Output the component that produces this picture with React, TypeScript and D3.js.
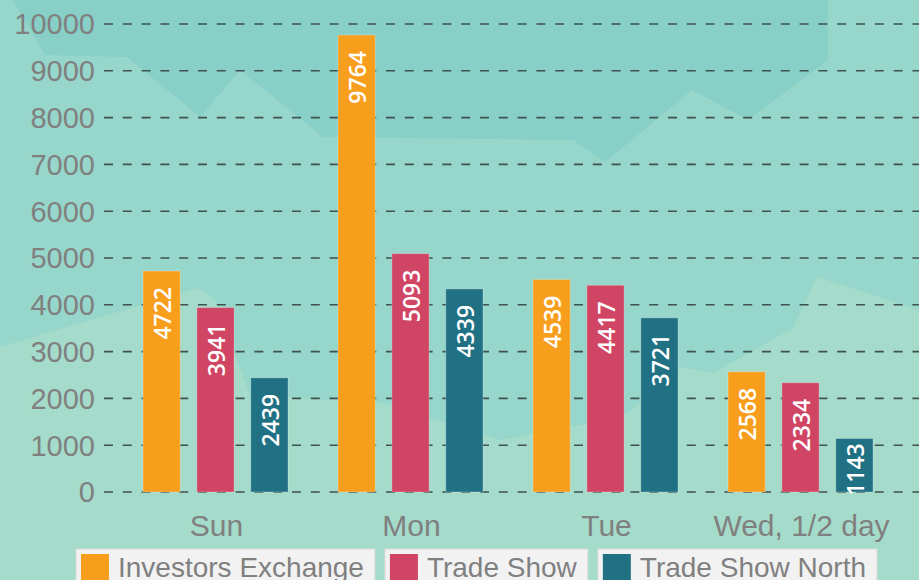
import React from "react";
import * as d3 from "d3";

const days = ["Sun", "Mon", "Tue", "Wed, 1/2 day"];
const seriesNames = ["Investors Exchange", "Trade Show", "Trade Show North"];
const investorsExchange = [4722, 9764, 4539, 2568];
const tradeShow = [3941, 5093, 4417, 2334];
const tradeShowNorth = [2439, 4339, 3721, 1143];
const yTicks = [0, 1000, 2000, 3000, 4000, 5000, 6000, 7000, 8000, 9000, 10000];
const seriesColors = ["#f89e1d", "#d14564", "#217184"];

const W = 919;
const H = 580;

function measure(text: string, font: string): number {
  const c = document.createElement("canvas");
  const ctx = c.getContext("2d");
  if (!ctx) return text.length * 14;
  ctx.font = font;
  return ctx.measureText(text).width;
}

export default function App() {
  const values = [investorsExchange, tradeShow, tradeShowNorth];
  const y = d3.scaleLinear().domain([0, 10000]).range([492, 24]);
  const x0 = d3.scaleBand<string>().domain(days).range([118, 898]).paddingInner(0).paddingOuter(0);
  const x1 = d3.scaleBand<string>().domain(seriesNames).range([25, 170]).paddingInner(0.31).paddingOuter(0);

  const tickFont = "'Liberation Sans', Arial, sans-serif";
  const labelFont = "'Open Sans', sans-serif";

  // legend layout
  const legendFontCss = "28px 'Liberation Sans', Arial, sans-serif";
  let lx = 76;
  const legendItems = seriesNames.map((name, i) => {
    const tw = measure(name, legendFontCss);
    const item = { name, i, x: lx, w: 42 + tw + 11, tw };
    lx += item.w + 10;
    return item;
  });

  return (
    <svg width={W} height={H} style={{ position: "absolute", left: 0, top: 0 }}>
      {/* background decoration */}
      <rect x={0} y={0} width={W} height={H} fill="#97d6ca" />
      <path
        d="M13,0 L45,55 L127,57 L200,117 L240,70 L323,137 L573,140 L605,162 L692,90 L748,120 L828,60 L828,0 Z"
        fill="#87cfc7"
      />
      <path
        d="M0,347 L198,288 L215,300 L250,395 L383,403 L500,440 L623,417 L680,367 L713,373 L793,328 L817,277 L919,310 L919,580 L0,580 Z"
        fill="#a5dbca"
      />

      {/* gridlines */}
      {yTicks.map((t) => (
        <line
          key={"g" + t}
          x1={104}
          x2={W}
          y1={y(t)}
          y2={y(t)}
          stroke="#3f524e"
          strokeWidth={1.6}
          strokeDasharray="9,9.8"
        />
      ))}

      {/* y tick labels */}
      {yTicks.map((t) => (
        <text
          key={"t" + t}
          x={95}
          y={y(t)}
          dy="0.36em"
          textAnchor="end"
          fontFamily={tickFont}
          fontSize={29}
          fill="#808080"
        >
          {t}
        </text>
      ))}

      {/* bars */}
      {days.map((day, di) => (
        <g key={day} transform={`translate(${x0(day)},0)`}>
          {seriesNames.map((s, si) => {
            const v = values[si][di];
            const bx = x1(s) as number;
            const bw = x1.bandwidth();
            const top = y(v);
            const h = y(0) - top;
            const off = Math.min(16, (h - 44) / 2);
            return (
              <g key={s}>
                <rect
                  x={bx}
                  y={top}
                  width={bw}
                  height={h}
                  fill={seriesColors[si]}
                  stroke="rgba(255,255,255,0.25)"
                  strokeWidth={1}
                />
                <text
                  transform={`translate(${bx + bw / 2},${top + off}) rotate(-90)`}
                  textAnchor="end"
                  dy="0.43em"
                  fontFamily={labelFont}
                  fontWeight={600}
                  fontSize={23}
                  fill="#ffffff"
                >
                  {v}
                </text>
              </g>
            );
          })}
        </g>
      ))}

      {/* x labels */}
      {days.map((day) => (
        <text
          key={"x" + day}
          x={(x0(day) as number) + x0.bandwidth() / 2 + 1}
          y={536}
          textAnchor="middle"
          fontFamily={tickFont}
          fontSize={30}
          fill="#808080"
        >
          {day}
        </text>
      ))}

      {/* legend */}
      {legendItems.map((it) => (
        <g key={"l" + it.name}>
          <rect x={it.x} y={549} width={it.w} height={40} fill="#f2f2f2" stroke="#dadada" strokeWidth={1} />
          <rect x={it.x + 5} y={554} width={28} height={30} fill={seriesColors[it.i]} />
          <text x={it.x + 42} y={577} fontFamily={tickFont} fontSize={28} fill="#808080">
            {it.name}
          </text>
        </g>
      ))}
    </svg>
  );
}
